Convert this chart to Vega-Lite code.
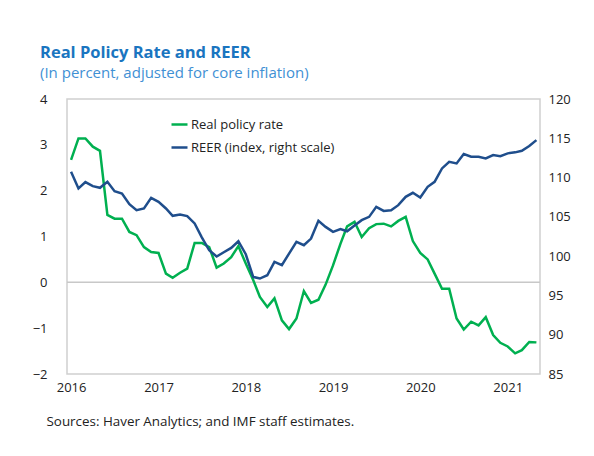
{
  "$schema": "https://vega.github.io/schema/vega-lite/v6.json",
  "width": 473,
  "height": 275,
  "autosize": {"type": "none"},
  "padding": {"left": 67, "top": 99, "right": 54, "bottom": 82},
  "background": "white",
  "config": {
    "font": "Open Sans",
    "view": {"stroke": "#d0d0d0", "strokeWidth": 1.5},
    "axis": {"labelFont": "Open Sans", "labelFontSize": 13, "labelColor": "#222222", "ticks": false, "domain": false, "grid": false}
  },
  "title": {
    "text": "Real Policy Rate and REER",
    "subtitle": "(In percent, adjusted for core inflation)",
    "anchor": "start",
    "frame": "group",
    "dx": -27,
    "font": "Open Sans",
    "fontSize": 16.5,
    "fontWeight": "bold",
    "color": "#1a75c0",
    "subtitleFont": "Open Sans",
    "subtitleFontSize": 15,
    "subtitleColor": "#3f90d4",
    "subtitlePadding": 5,
    "offset": 12
  },
  "data": {
    "values": [
      {"date": "2016-01", "rate": 2.67, "reer": 110.73},
      {"date": "2016-02", "rate": 3.14, "reer": 108.62},
      {"date": "2016-03", "rate": 3.14, "reer": 109.42},
      {"date": "2016-04", "rate": 2.96, "reer": 108.91},
      {"date": "2016-05", "rate": 2.87, "reer": 108.7},
      {"date": "2016-06", "rate": 1.47, "reer": 109.46},
      {"date": "2016-07", "rate": 1.39, "reer": 108.27},
      {"date": "2016-08", "rate": 1.39, "reer": 107.98},
      {"date": "2016-09", "rate": 1.1, "reer": 106.62},
      {"date": "2016-10", "rate": 1.03, "reer": 105.85},
      {"date": "2016-11", "rate": 0.77, "reer": 106.07},
      {"date": "2016-12", "rate": 0.66, "reer": 107.42},
      {"date": "2017-01", "rate": 0.64, "reer": 106.91},
      {"date": "2017-02", "rate": 0.19, "reer": 106.07},
      {"date": "2017-03", "rate": 0.1, "reer": 105.13},
      {"date": "2017-04", "rate": 0.21, "reer": 105.3},
      {"date": "2017-05", "rate": 0.3, "reer": 105.09},
      {"date": "2017-06", "rate": 0.86, "reer": 104.16},
      {"date": "2017-07", "rate": 0.86, "reer": 102.4},
      {"date": "2017-08", "rate": 0.77, "reer": 100.75},
      {"date": "2017-09", "rate": 0.32, "reer": 99.95},
      {"date": "2017-10", "rate": 0.41, "reer": 100.5},
      {"date": "2017-11", "rate": 0.55, "reer": 101.05},
      {"date": "2017-12", "rate": 0.79, "reer": 101.9},
      {"date": "2018-01", "rate": 0.41, "reer": 100.24},
      {"date": "2018-02", "rate": 0.05, "reer": 97.35},
      {"date": "2018-03", "rate": -0.32, "reer": 97.15},
      {"date": "2018-04", "rate": -0.54, "reer": 97.57},
      {"date": "2018-05", "rate": -0.35, "reer": 99.26},
      {"date": "2018-06", "rate": -0.83, "reer": 98.84},
      {"date": "2018-07", "rate": -1.02, "reer": 100.33},
      {"date": "2018-08", "rate": -0.79, "reer": 101.81},
      {"date": "2018-09", "rate": -0.19, "reer": 101.39},
      {"date": "2018-10", "rate": -0.45, "reer": 102.24},
      {"date": "2018-11", "rate": -0.38, "reer": 104.49},
      {"date": "2018-12", "rate": -0.05, "reer": 103.72},
      {"date": "2019-01", "rate": 0.37, "reer": 103.09},
      {"date": "2019-02", "rate": 0.84, "reer": 103.45},
      {"date": "2019-03", "rate": 1.22, "reer": 103.17},
      {"date": "2019-04", "rate": 1.32, "reer": 103.9},
      {"date": "2019-05", "rate": 0.99, "reer": 104.58},
      {"date": "2019-06", "rate": 1.18, "reer": 105.0},
      {"date": "2019-07", "rate": 1.27, "reer": 106.27},
      {"date": "2019-08", "rate": 1.28, "reer": 105.76},
      {"date": "2019-09", "rate": 1.22, "reer": 105.85},
      {"date": "2019-10", "rate": 1.34, "reer": 106.49},
      {"date": "2019-11", "rate": 1.43, "reer": 107.55},
      {"date": "2019-12", "rate": 0.9, "reer": 108.06},
      {"date": "2020-01", "rate": 0.64, "reer": 107.47},
      {"date": "2020-02", "rate": 0.5, "reer": 108.82},
      {"date": "2020-03", "rate": 0.19, "reer": 109.46},
      {"date": "2020-04", "rate": -0.14, "reer": 111.16},
      {"date": "2020-05", "rate": -0.14, "reer": 112.01},
      {"date": "2020-06", "rate": -0.79, "reer": 111.8},
      {"date": "2020-07", "rate": -1.03, "reer": 112.99},
      {"date": "2020-08", "rate": -0.86, "reer": 112.65},
      {"date": "2020-09", "rate": -0.94, "reer": 112.65},
      {"date": "2020-10", "rate": -0.76, "reer": 112.44},
      {"date": "2020-11", "rate": -1.15, "reer": 112.86},
      {"date": "2020-12", "rate": -1.32, "reer": 112.73},
      {"date": "2021-01", "rate": -1.4, "reer": 113.08},
      {"date": "2021-02", "rate": -1.55, "reer": 113.21},
      {"date": "2021-03", "rate": -1.48, "reer": 113.41},
      {"date": "2021-04", "rate": -1.3, "reer": 114.01},
      {"date": "2021-05", "rate": -1.31, "reer": 114.77}
    ],
    "format": {"parse": {"date": "date:'%Y-%m'"}}
  },
  "layer": [
    {
      "layer": [
        {
          "data": {"values": [{"v": 0}]},
          "mark": {"type": "rule", "color": "#c8c8c8", "strokeWidth": 1.5},
          "encoding": {"y": {"field": "v", "type": "quantitative"}}
        },
        {
          "mark": {"type": "line", "strokeWidth": 2.5, "interpolate": "linear"},
          "encoding": {
            "x": {
              "field": "date",
              "type": "temporal",
              "scale": {"domain": [{"year": 2015, "month": 12, "date": 15}, {"year": 2021, "month": 5, "date": 16}]},
              "axis": {
                "format": "%Y",
                "tickCount": {"interval": "year", "step": 1},
                "labelPadding": 7,
                "title": "Sources: Haver Analytics; and IMF staff estimates.",
                "titleAnchor": "start",
                "titleAlign": "left",
                "titleBaseline": "middle",
                "titleX": -21,
                "titleY": 47,
                "titleFont": "Open Sans",
                "titleFontWeight": "normal",
                "titleFontSize": 13.4,
                "titleColor": "#222222"
              }
            },
            "y": {
              "field": "rate",
              "type": "quantitative",
              "scale": {"domain": [-2, 4], "nice": false},
              "axis": {"orient": "left", "values": [-2, -1, 0, 1, 2, 3, 4], "labelPadding": 20, "title": null}
            },
            "color": {
              "datum": "Real policy rate",
              "type": "nominal",
              "scale": {"domain": ["Real policy rate", "REER (index, right scale)"], "range": ["#00b050", "#1f4e8c"]},
              "legend": {
                "orient": "none",
                "legendX": 103,
                "legendY": 16,
                "title": null,
                "symbolType": "stroke",
                "symbolSize": 256,
                "symbolStrokeWidth": 2.5,
                "labelFont": "Open Sans",
                "labelFontSize": 13,
                "labelColor": "#222222",
                "labelOffset": 2,
                "rowPadding": 6
              }
            }
          }
        }
      ]
    },
    {
      "mark": {"type": "line", "strokeWidth": 2.5, "interpolate": "linear"},
      "encoding": {
        "x": {"field": "date", "type": "temporal"},
        "y": {
          "field": "reer",
          "type": "quantitative",
          "scale": {"domain": [85, 120], "nice": false},
          "axis": {"orient": "right", "values": [85, 90, 95, 100, 105, 110, 115, 120], "labelPadding": 8, "title": null}
        },
        "color": {"datum": "REER (index, right scale)", "type": "nominal"}
      }
    }
  ],
  "resolve": {"scale": {"y": "independent"}}
}
